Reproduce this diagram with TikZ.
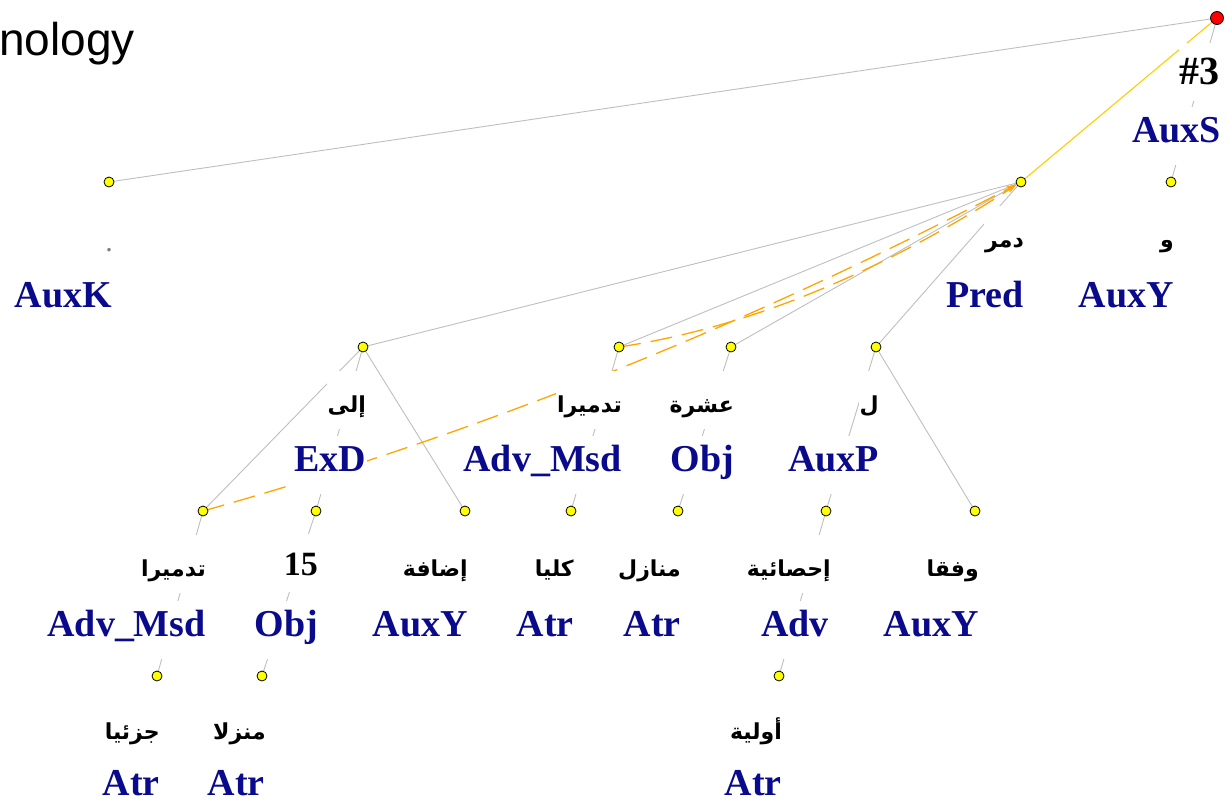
\documentclass[tikz,border=0pt]{standalone}
\usepackage{fontspec}
\setmainfont{Liberation Serif}
\newfontfamily\arabicfont[Script=Arabic]{DejaVu Sans}
\newfontfamily\slidefont{Liberation Sans}
\TeXXeTstate=1
\usetikzlibrary{arrows.meta}
\newcommand{\arword}[1]{\beginR #1\endR}
\definecolor{edgegray}{RGB}{190,190,190}
\definecolor{afunblue}{RGB}{10,10,140}
\definecolor{corefor}{RGB}{255,165,0}
\definecolor{predline}{RGB}{255,205,0}
\definecolor{nodeyellow}{RGB}{255,255,0}
\begin{document}
\begin{tikzpicture}[x=1pt,y=-1pt,
  edge/.style={draw=edgegray,line width=0.9pt},
  rootedge/.style={draw=predline,line width=1.1pt},
  ynode/.style={circle,draw=black,fill=nodeyellow,line width=0.8pt,minimum size=10pt,inner sep=0pt},
  rnode/.style={ynode,fill=red,minimum size=13pt},
  wordlbl/.style={anchor=base east,fill=white,inner xsep=1pt,inner ysep=0pt,text height=41pt,text depth=17pt,font=\arabicfont\bfseries\fontsize{22}{22}\selectfont,text=black},
  numlbl/.style={wordlbl,font=\bfseries\fontsize{34}{34}\selectfont},
  afunlbl/.style={anchor=base east,fill=white,inner xsep=1pt,inner ysep=0pt,text height=35pt,text depth=23pt,font=\bfseries\fontsize{38}{38}\selectfont,text=afunblue},
  lastafun/.style={afunlbl,text depth=1pt},
  coref/.style={draw=corefor,line width=1.3pt,dash pattern=on 22pt off 10pt,-{Stealth[length=9pt,width=6pt]},shorten >=6pt}
]
\useasboundingbox (0,0) rectangle (1229,804);
\clip (0,0) rectangle (1229,804);

% slide title fragment
\node[anchor=base west,inner sep=0pt,font=\slidefont\fontsize{46}{46}\selectfont] (title) at (-1,55) {nology};

% tree positions
\coordinate (root) at (1217,18);
\coordinate (auxk) at (109,182);
\coordinate (pred) at (1021,182);
\coordinate (auxya) at (1171,182);
\coordinate (exd) at (363,347);
\coordinate (advmsda) at (619,347);
\coordinate (obja) at (731,347);
\coordinate (auxp) at (876,347);
\coordinate (advmsdb) at (203,511);
\coordinate (objb) at (316,511);
\coordinate (auxyb) at (465,511);
\coordinate (atra) at (571,511);
\coordinate (atrb) at (678,511);
\coordinate (adv) at (826,511);
\coordinate (auxyc) at (975,511);
\coordinate (atrc) at (157,676);
\coordinate (atrd) at (262,676);
\coordinate (atre) at (779,676);

% edges
\draw[edge] (root) -- (auxk);
\draw[edge] (root) -- (auxya);
\draw[rootedge] (root) -- (pred);
\draw[edge] (pred) -- (exd);
\draw[edge] (pred) -- (advmsda);
\draw[edge] (pred) -- (obja);
\draw[edge] (pred) -- (auxp);
\draw[edge] (exd) -- (advmsdb);
\draw[edge] (exd) -- (objb);
\draw[edge] (exd) -- (auxyb);
\draw[edge] (advmsda) -- (atra);
\draw[edge] (obja) -- (atrb);
\draw[edge] (auxp) -- (adv);
\draw[edge] (auxp) -- (auxyc);
\draw[edge] (advmsdb) -- (atrc);
\draw[edge] (objb) -- (atrd);
\draw[edge] (adv) -- (atre);

% coreference arrows
\draw[coref] (advmsda) .. controls (746,328) and (878,274) .. (pred);
\draw[coref] (advmsdb) .. controls (476,434) and (747,326) .. (pred);

% labels
\node[numlbl,font=\bfseries\fontsize{40}{40}\selectfont] (lroot) at (1221,84) {\#3};
\node[afunlbl] (froot) at (1222,142) {AuxS};

\node[anchor=center,inner sep=0pt,text=gray,font=\fontsize{30}{30}\selectfont] (lauxk) at (109,250) {.};
\node[afunlbl] (fauxk) at (113,307) {AuxK};

\node[wordlbl] (lpred) at (1025,247) {\arword{دمر}};
\node[afunlbl] (fpred) at (1025,307) {Pred};

\node[wordlbl] (lauxya) at (1175,247) {\arword{و}};
\node[afunlbl] (fauxya) at (1175,307) {AuxY};

\node[wordlbl] (lexd) at (367,412) {\arword{إلى}};
\node[afunlbl] (fexd) at (367,471) {ExD};

\node[wordlbl] (ladvmsda) at (623,412) {\arword{تدميرا}};
\node[afunlbl] (fadvmsda) at (623,471) {Adv\_Msd};

\node[wordlbl] (lobja) at (735,412) {\arword{عشرة}};
\node[afunlbl] (fobja) at (735,471) {Obj};

\node[wordlbl] (lauxp) at (880,412) {\arword{ل}};
\node[afunlbl] (fauxp) at (880,471) {AuxP};

\node[wordlbl] (ladvmsdb) at (207,576) {\arword{تدميرا}};
\node[afunlbl] (fadvmsdb) at (207,636) {Adv\_Msd};

\node[numlbl] (lobjb) at (319,575) {15};
\node[afunlbl] (fobjb) at (319,636) {Obj};

\node[wordlbl] (lauxyb) at (469,576) {\arword{إضافة}};
\node[afunlbl] (fauxyb) at (469,636) {AuxY};

\node[wordlbl] (latra) at (575,576) {\arword{كليا}};
\node[afunlbl] (fatra) at (575,636) {Atr};

\node[wordlbl] (latrb) at (682,576) {\arword{منازل}};
\node[afunlbl] (fatrb) at (682,636) {Atr};

\node[wordlbl] (ladv) at (832,576) {\arword{إحصائية}};
\node[afunlbl] (fadv) at (830,636) {Adv};

\node[wordlbl] (lauxyc) at (980,576) {\arword{وفقا}};
\node[afunlbl] (fauxyc) at (980,636) {AuxY};

\node[wordlbl] (latrc) at (161,739) {\arword{جزئيا}};
\node[lastafun] (fatrc) at (161,795) {Atr};

\node[wordlbl] (latrd) at (267,739) {\arword{منزلا}};
\node[lastafun] (fatrd) at (266,795) {Atr};

\node[wordlbl] (latre) at (783,739) {\arword{أولية}};
\node[lastafun] (fatre) at (783,795) {Atr};

% node circles
\node[rnode] (croot) at (root) {};
\foreach \n in {auxk,pred,auxya,exd,advmsda,obja,auxp,advmsdb,objb,auxyb,atra,atrb,adv,auxyc,atrc,atrd,atre}
  \node[ynode] (c\n) at (\n) {};
\end{tikzpicture}
\end{document}
